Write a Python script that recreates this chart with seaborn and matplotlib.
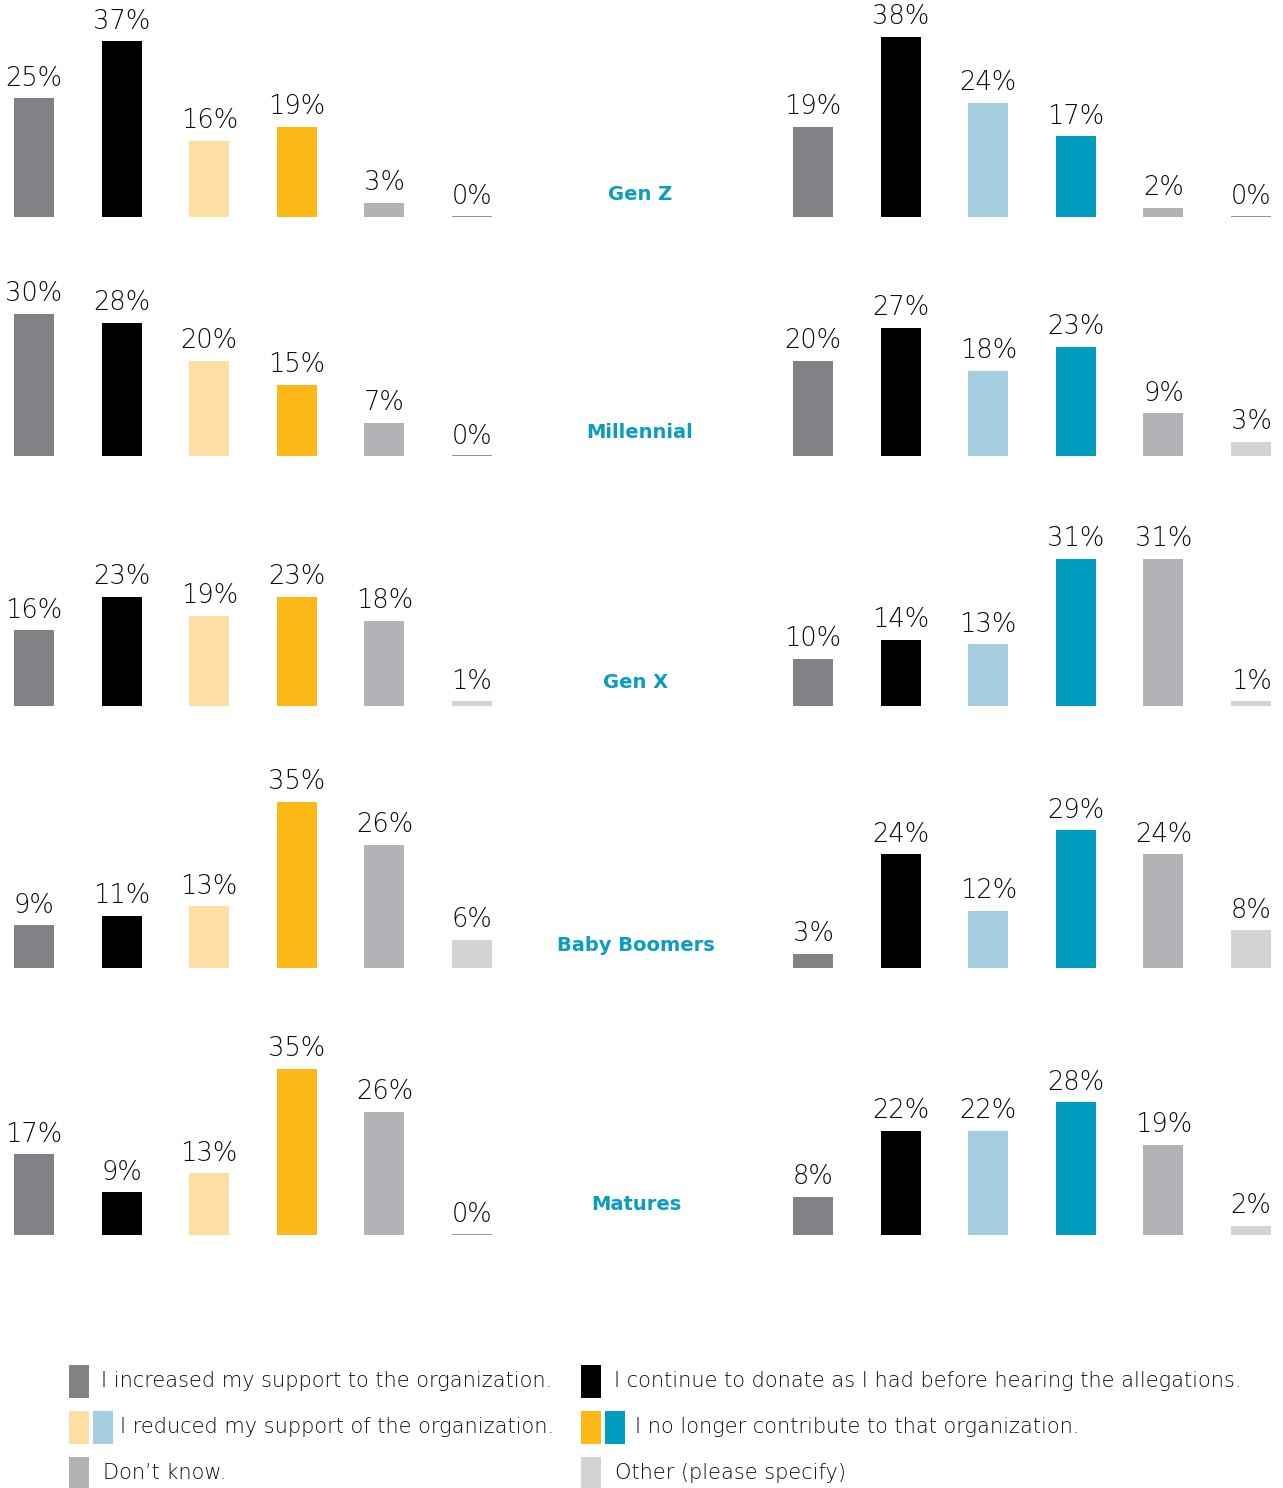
import matplotlib
matplotlib.use("Agg")
import matplotlib.pyplot as plt
import seaborn as sns
import pandas as pd
from matplotlib.patches import Rectangle

# ---------------- data ----------------
generations = ["Gen Z", "Millennial", "Gen X", "Baby Boomers", "Matures"]
responses = ["Increased", "Continue", "Reduced", "No longer", "Don't know", "Other"]

gen_z_left = [25, 37, 16, 19, 3, 0]
gen_z_right = [19, 38, 24, 17, 2, 0]
millennial_left = [30, 28, 20, 15, 7, 0]
millennial_right = [20, 27, 18, 23, 9, 3]
gen_x_left = [16, 23, 19, 23, 18, 1]
gen_x_right = [10, 14, 13, 31, 31, 1]
boomers_left = [9, 11, 13, 35, 26, 6]
boomers_right = [3, 24, 12, 29, 24, 8]
matures_left = [17, 9, 13, 35, 26, 0]
matures_right = [8, 22, 22, 28, 19, 2]

left_rows = [gen_z_left, millennial_left, gen_x_left, boomers_left, matures_left]
right_rows = [gen_z_right, millennial_right, gen_x_right, boomers_right, matures_right]

legend_labels = [
    "I increased my support to the organization.",
    "I continue to donate as I had before hearing the allegations.",
    "I reduced my support of the organization.",
    "I no longer contribute to that organization.",
    "Don\u2019t know.",
    "Other (please specify)",
]

# ---------------- style ----------------
left_colors = ["#808285", "#000000", "#fedea2", "#fbb817", "#b1b3b6", "#d1d3d4"]
right_colors = ["#808285", "#000000", "#a5cde0", "#009dc0", "#b1b3b6", "#d1d3d4"]
label_color = "#0a9cc2"
text_color = "#0d0b0c"

sns.set_theme(style="white")
plt.rcParams["font.family"] = ["DejaVu Sans"]

W, H = 1283, 1488
fig = plt.figure(figsize=(W / 100, H / 100), dpi=100)
fig.patch.set_facecolor("white")

px_per_unit = 87.6
px_per_pct = 4.75
xlo, xhi = -0.35, 5.35
ymax = 40

baselines = [217, 456, 706, 968, 1235]
label_pos = [(640, 195), (640, 433), (636, 683), (636, 945), (636, 1205)]
first_centers = [34, 813]


def draw_panel(vals, colors, first_center, baseline):
    left_px = first_center + xlo * px_per_unit
    width_px = (xhi - xlo) * px_per_unit
    height_px = ymax * px_per_pct
    ax = fig.add_axes([left_px / W, (H - baseline) / H, width_px / W, height_px / H])
    df = pd.DataFrame({"response": responses, "value": vals})
    sns.barplot(data=df, x="response", y="value", hue="response", palette=colors,
                dodge=False, width=0.457, saturation=1, legend=False, ax=ax,
                order=responses, hue_order=responses)
    for p in ax.patches:
        if p.get_height() == 0:
            p.set_edgecolor("#808285")
            p.set_linewidth(1.2)
        else:
            p.set_linewidth(0)
    for i, v in enumerate(vals):
        ax.annotate(f"{v}%", (i, v), xytext=(0, 9), textcoords="offset points",
                    ha="center", va="baseline", fontsize=18.5, color=text_color,
                    fontweight=200, annotation_clip=False)
    ax.set_xlim(xlo, xhi)
    ax.set_ylim(0, ymax)
    ax.axis("off")
    return ax


for r in range(5):
    draw_panel(left_rows[r], left_colors, first_centers[0], baselines[r])
    draw_panel(right_rows[r], right_colors, first_centers[1], baselines[r])
    lx, ly = label_pos[r]
    fig.text(lx / W, 1 - ly / H, generations[r], ha="center", va="center",
             color=label_color, fontweight="bold", fontsize=14)

# ---------------- legend ----------------
lax = fig.add_axes([0, 0, 1, 1])
lax.set_xlim(0, W)
lax.set_ylim(H, 0)
lax.axis("off")
lax.patch.set_alpha(0)

legend_items = [
    (1381, [(69, left_colors[0])], 101, legend_labels[0]),
    (1381, [(581, left_colors[1])], 614, legend_labels[1]),
    (1427, [(69, left_colors[2]), (93, right_colors[2])], 120, legend_labels[2]),
    (1427, [(581, left_colors[3]), (605, right_colors[3])], 635, legend_labels[3]),
    (1473, [(69, left_colors[4])], 103, legend_labels[4]),
    (1473, [(581, left_colors[5])], 615, legend_labels[5]),
]
for yc, squares, tx, label in legend_items:
    for sx, c in squares:
        lax.add_patch(Rectangle((sx, yc - 16.5), 20, 33, facecolor=c, edgecolor="none"))
    lax.text(tx, yc, label, ha="left", va="center", fontsize=15, color=text_color,
             fontweight=200)

fig.savefig("out.png", dpi=100, facecolor="white")
